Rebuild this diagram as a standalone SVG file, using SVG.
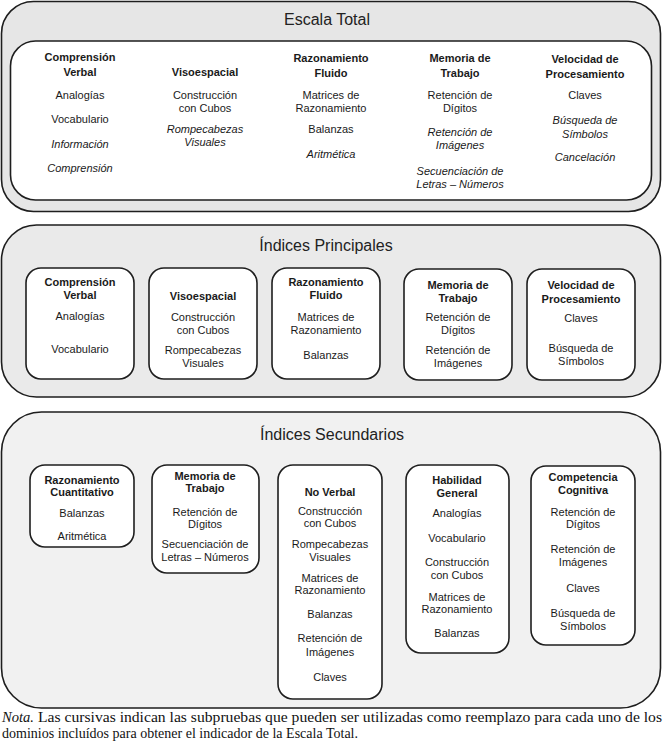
<svg xmlns="http://www.w3.org/2000/svg" width="664" height="743" viewBox="0 0 664 743">
<style>
.panel{stroke:#1e1e1e;stroke-width:1.6}
.box{fill:#fff;stroke:#1e1e1e;stroke-width:1.6}
text{font-family:"Liberation Sans",Arial,sans-serif;font-size:11px;fill:#1a1a1a;text-anchor:middle}
.b{font-weight:bold}
.i{font-style:italic}
.title{font-size:16px;fill:#222}
.nota{font-family:"Liberation Serif","Times New Roman",serif;font-size:14px;text-anchor:start;fill:#111}
</style>
<rect width="664" height="743" fill="#fff"/>
<g id="escala-total">
<rect class="panel" x="1.5" y="1.5" width="659" height="210" rx="32" fill="#e6e6e6"/>
<text class="title" x="327" y="25">Escala Total</text>
<rect class="box" x="10.5" y="41" width="641" height="159" rx="25"/>
<g id="et-cv">
<text class="b" x="80" y="61">Comprensión</text>
<text class="b" x="80" y="76">Verbal</text>
<text x="80" y="99">Analogías</text>
<text x="80" y="123">Vocabulario</text>
<text class="i" x="80" y="148">Información</text>
<text class="i" x="80" y="172">Comprensión</text>
</g>
<g id="et-ve">
<text class="b" x="205" y="76">Visoespacial</text>
<text x="205" y="99">Construcción</text>
<text x="205" y="112">con Cubos</text>
<text class="i" x="205" y="133">Rompecabezas</text>
<text class="i" x="205" y="146">Visuales</text>
</g>
<g id="et-rf">
<text class="b" x="331" y="62">Razonamiento</text>
<text class="b" x="331" y="77">Fluido</text>
<text x="331" y="99">Matrices de</text>
<text x="331" y="112">Razonamiento</text>
<text x="331" y="133">Balanzas</text>
<text class="i" x="331" y="158">Aritmética</text>
</g>
<g id="et-mt">
<text class="b" x="460" y="62">Memoria de</text>
<text class="b" x="460" y="77">Trabajo</text>
<text x="460" y="99">Retención de</text>
<text x="460" y="112">Dígitos</text>
<text class="i" x="460" y="136">Retención de</text>
<text class="i" x="460" y="149">Imágenes</text>
<text class="i" x="460" y="175">Secuenciación de</text>
<text class="i" x="460" y="188">Letras – Números</text>
</g>
<g id="et-vp">
<text class="b" x="585" y="63">Velocidad de</text>
<text class="b" x="585" y="78">Procesamiento</text>
<text x="585" y="99">Claves</text>
<text class="i" x="585" y="124">Búsqueda de</text>
<text class="i" x="585" y="138">Símbolos</text>
<text class="i" x="585" y="161">Cancelación</text>
</g>
</g>
<g id="indices-principales">
<rect class="panel" x="1.5" y="225" width="659" height="172" rx="35" fill="#eaeaea"/>
<text class="title" x="326" y="251">Índices Principales</text>
<g id="ip-cv">
<rect class="box" x="26" y="268" width="108" height="111" rx="15"/>
<text class="b" x="80" y="286">Comprensión</text>
<text class="b" x="80" y="299">Verbal</text>
<text x="80" y="320">Analogías</text>
<text x="80" y="353">Vocabulario</text>
</g>
<g id="ip-ve">
<rect class="box" x="149" y="268" width="108" height="111" rx="15"/>
<text class="b" x="203" y="300">Visoespacial</text>
<text x="203" y="321">Construcción</text>
<text x="203" y="334">con Cubos</text>
<text x="203" y="354">Rompecabezas</text>
<text x="203" y="367">Visuales</text>
</g>
<g id="ip-rf">
<rect class="box" x="272" y="268" width="108" height="111" rx="15"/>
<text class="b" x="326" y="286">Razonamiento</text>
<text class="b" x="326" y="299">Fluido</text>
<text x="326" y="321">Matrices de</text>
<text x="326" y="334">Razonamiento</text>
<text x="326" y="359">Balanzas</text>
</g>
<g id="ip-mt">
<rect class="box" x="404" y="269" width="108" height="111" rx="15"/>
<text class="b" x="458" y="289">Memoria de</text>
<text class="b" x="458" y="302">Trabajo</text>
<text x="458" y="321">Retención de</text>
<text x="458" y="334">Dígitos</text>
<text x="458" y="354">Retención de</text>
<text x="458" y="367">Imágenes</text>
</g>
<g id="ip-vp">
<rect class="box" x="527" y="269" width="108" height="111" rx="15"/>
<text class="b" x="581" y="289">Velocidad de</text>
<text class="b" x="581" y="303">Procesamiento</text>
<text x="581" y="322">Claves</text>
<text x="581" y="352">Búsqueda de</text>
<text x="581" y="365">Símbolos</text>
</g>
</g>
<g id="indices-secundarios">
<rect class="panel" x="1.5" y="412" width="659" height="296" rx="40" fill="#f1f1f1"/>
<text class="title" x="332" y="440">Índices Secundarios</text>
<g id="is-rc">
<rect class="box" x="30" y="465" width="104" height="82" rx="15"/>
<text class="b" x="82" y="484">Razonamiento</text>
<text class="b" x="82" y="496">Cuantitativo</text>
<text x="82" y="517">Balanzas</text>
<text x="82" y="540">Aritmética</text>
</g>
<g id="is-mt">
<rect class="box" x="152" y="465" width="107" height="108" rx="15"/>
<text class="b" x="205" y="480">Memoria de</text>
<text class="b" x="205" y="492">Trabajo</text>
<text x="205" y="516">Retención de</text>
<text x="205" y="528">Dígitos</text>
<text x="205" y="548">Secuenciación de</text>
<text x="205" y="561">Letras – Números</text>
</g>
<g id="is-nv">
<rect class="box" x="278" y="465" width="104" height="234" rx="15"/>
<text class="b" x="330" y="496">No Verbal</text>
<text x="330" y="515">Construcción</text>
<text x="330" y="527">con Cubos</text>
<text x="330" y="548">Rompecabezas</text>
<text x="330" y="561">Visuales</text>
<text x="330" y="582">Matrices de</text>
<text x="330" y="594">Razonamiento</text>
<text x="330" y="618">Balanzas</text>
<text x="330" y="642">Retención de</text>
<text x="330" y="656">Imágenes</text>
<text x="330" y="681">Claves</text>
</g>
<g id="is-hg">
<rect class="box" x="406" y="465" width="103" height="188" rx="15"/>
<text class="b" x="457" y="484">Habilidad</text>
<text class="b" x="457" y="497">General</text>
<text x="457" y="517">Analogías</text>
<text x="457" y="542">Vocabulario</text>
<text x="457" y="566">Construcción</text>
<text x="457" y="579">con Cubos</text>
<text x="457" y="601">Matrices de</text>
<text x="457" y="613">Razonamiento</text>
<text x="457" y="637">Balanzas</text>
</g>
<g id="is-cc">
<rect class="box" x="531" y="466" width="104" height="179" rx="15"/>
<text class="b" x="583" y="481">Competencia</text>
<text class="b" x="583" y="494">Cognitiva</text>
<text x="583" y="516">Retención de</text>
<text x="583" y="528">Dígitos</text>
<text x="583" y="553">Retención de</text>
<text x="583" y="566">Imágenes</text>
<text x="583" y="592">Claves</text>
<text x="583" y="617">Búsqueda de</text>
<text x="583" y="630">Símbolos</text>
</g>
</g>
<g id="connectors"/>
<g id="nota">
<text class="nota" x="2" y="722" font-style="italic" textLength="32" lengthAdjust="spacingAndGlyphs">Nota.</text>
<text class="nota" x="38" y="722" textLength="624" lengthAdjust="spacingAndGlyphs">Las cursivas indican las subpruebas que pueden ser utilizadas como reemplazo para cada uno de los</text>
<text class="nota" x="2" y="738" textLength="356" lengthAdjust="spacingAndGlyphs">dominios incluídos para obtener el indicador de la Escala Total.</text>
</g>
</svg>
